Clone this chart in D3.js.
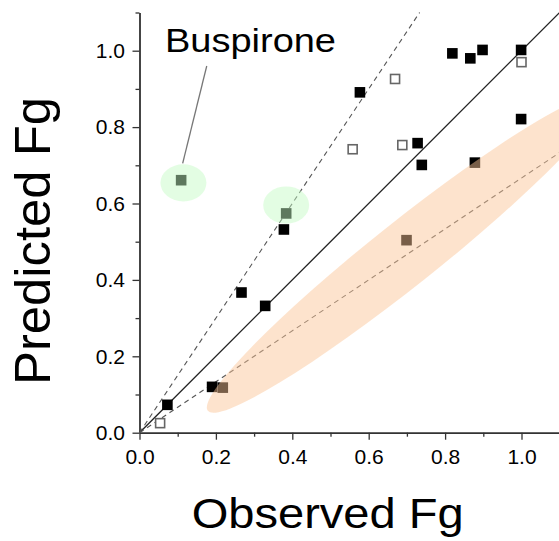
<!DOCTYPE html>
<html>
<head>
<meta charset="utf-8">
<script src="https://cdn.jsdelivr.net/npm/d3@7"></script>
<style>
  body { margin: 0; background: #fff; }
  text { font-family: "Liberation Sans", Arial, sans-serif; fill: #000; }
</style>
</head>
<body>
<div id="chart"></div>
<script>
var svgWidth = 559;
var svgHeight = 541;

// data (Observed Fg, Predicted Fg)
var filledX = [0.819, 0.866, 0.898, 0.999, 0.577, 0.728, 0.739, 0.999, 0.378, 0.267, 0.329, 0.190, 0.073,
               0.109, 0.384, 0.218, 0.699, 0.878];
var filledY = [0.993, 0.980, 1.002, 1.002, 0.891, 0.758, 0.701, 0.821, 0.532, 0.367, 0.332, 0.120, 0.073,
               0.661, 0.574, 0.118, 0.504, 0.707];
var openX = [1.000, 0.669, 0.558, 0.688, 0.054];
var openY = [0.970, 0.926, 0.742, 0.753, 0.025];

// fold lines: y = x, y = 1.5x, y = x / 1.5
var foldSlopes = [1, 1.5, 1 / 1.5];

// highlight regions (centres in data units)
var greenCentersX = [0.115, 0.384];
var greenCentersY = [0.654, 0.596];
var orangeCenter = [0.695, 0.468];

var majorTicks = [0, 0.2, 0.4, 0.6, 0.8, 1.0];
var minorTicks = [0.1, 0.3, 0.5, 0.7, 0.9, 1.1];

var x = d3.scaleLinear().domain([0, 1.1]).range([139.5, 559.7]);
var y = d3.scaleLinear().domain([0, 1.1]).range([432.7, 12.5]);

var svg = d3.select("#chart").append("svg")
  .attr("width", svgWidth)
  .attr("height", svgHeight);

var axisColor = "#333";

// axes
var xAxisG = svg.append("g").attr("transform", `translate(0, ${y(0)})`);
xAxisG.call(d3.axisBottom(x).tickValues(majorTicks).tickSize(7).tickSizeOuter(0).tickPadding(9)
  .tickFormat(d3.format(".1f")));
var xMinorG = svg.append("g").attr("transform", `translate(0, ${y(0)})`);
xMinorG.call(d3.axisBottom(x).tickValues(minorTicks).tickSize(4).tickSizeOuter(0).tickFormat(""));

var yAxisG = svg.append("g").attr("transform", `translate(${x(0)}, 0)`);
yAxisG.call(d3.axisLeft(y).tickValues(majorTicks).tickSize(7).tickSizeOuter(0).tickPadding(7.5)
  .tickFormat(d3.format(".1f")));
var yMinorG = svg.append("g").attr("transform", `translate(${x(0)}, 0)`);
yMinorG.call(d3.axisLeft(y).tickValues(minorTicks).tickSize(4).tickSizeOuter(0).tickFormat(""));

svg.selectAll(".domain").attr("stroke", axisColor).attr("stroke-width", 1.4);
svg.selectAll(".tick line").attr("stroke", axisColor).attr("stroke-width", 1.3);
svg.selectAll(".tick text")
  .style("font-family", "'Liberation Sans', Arial, sans-serif")
  .style("font-size", "21px")
  .attr("fill", "#000");

// fold lines
var lineG = svg.append("g");
foldSlopes.forEach(function(s, i) {
  var xEnd = Math.min(1.1, 1.1 / s);
  lineG.append("line")
    .attr("x1", x(0)).attr("y1", y(0))
    .attr("x2", x(xEnd)).attr("y2", y(xEnd * s))
    .attr("stroke", i === 0 ? "#222" : "#555")
    .attr("stroke-width", i === 0 ? 1.3 : 1.1)
    .attr("stroke-dasharray", i === 0 ? null : "5,4");
});

// squares
var sq = 10.6;
svg.append("g").selectAll("rect")
  .data(filledX.map((d, i) => [d, filledY[i]]))
  .enter()
  .append("rect")
  .attr("x", d => x(d[0]) - sq / 2)
  .attr("y", d => y(d[1]) - sq / 2)
  .attr("width", sq).attr("height", sq)
  .attr("fill", "#000");

svg.append("g").selectAll("rect")
  .data(openX.map((d, i) => [d, openY[i]]))
  .enter()
  .append("rect")
  .attr("x", d => x(d[0]) - (sq - 1.6) / 2)
  .attr("y", d => y(d[1]) - (sq - 1.6) / 2)
  .attr("width", sq - 1.6).attr("height", sq - 1.6)
  .attr("fill", "#fff")
  .attr("stroke", "#666")
  .attr("stroke-width", 1.6);

// translucent highlight regions drawn on top
svg.append("g").selectAll("ellipse")
  .data(greenCentersX.map((d, i) => [d, greenCentersY[i]]))
  .enter()
  .append("ellipse")
  .attr("cx", d => x(d[0]))
  .attr("cy", d => y(d[1]))
  .attr("rx", 23).attr("ry", 18.6)
  .attr("fill", "rgb(196,250,196)")
  .attr("fill-opacity", 0.48);

svg.append("ellipse")
  .attr("transform", `translate(${x(orangeCenter[0])}, ${y(orangeCenter[1])}) rotate(-38.5)`)
  .attr("rx", 252).attr("ry", 32)
  .attr("fill", "rgb(251,197,151)")
  .attr("fill-opacity", 0.48);

// Buspirone annotation
svg.append("line")
  .attr("x1", x(0.176)).attr("y1", y(0.960))
  .attr("x2", x(0.113)).attr("y2", y(0.705))
  .attr("stroke", "#777").attr("stroke-width", 1.3);

svg.append("text")
  .attr("x", 165).attr("y", 52.3)
  .attr("font-size", 34)
  .attr("textLength", 171).attr("lengthAdjust", "spacingAndGlyphs")
  .text("Buspirone");

// axis titles
svg.append("text")
  .attr("x", 191.7).attr("y", 528)
  .attr("font-size", 43)
  .attr("textLength", 272).attr("lengthAdjust", "spacingAndGlyphs")
  .text("Observed Fg");

svg.append("text")
  .attr("transform", "translate(50, 385) rotate(-90)")
  .attr("font-size", 50)
  .attr("textLength", 288).attr("lengthAdjust", "spacingAndGlyphs")
  .text("Predicted Fg");
</script>
</body>
</html>
